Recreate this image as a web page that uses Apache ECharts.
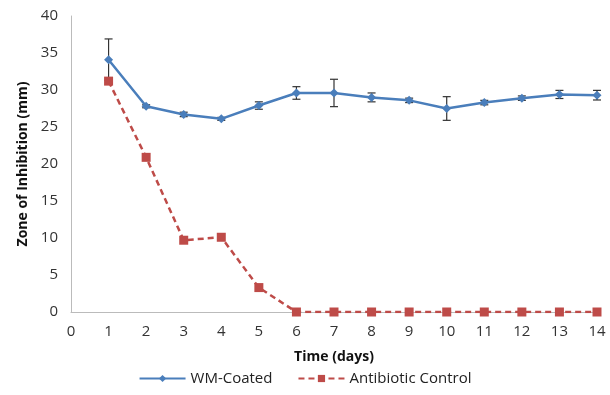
<!DOCTYPE html>
<html><head><meta charset="utf-8">
<script src="https://cdn.jsdelivr.net/npm/echarts@6/dist/echarts.min.js"></script>
<style>html,body{margin:0;padding:0;background:#fff}#c{width:610px;height:395px}</style>
</head><body><div id="c"></div>
<script>
const days = [1,2,3,4,5,6,7,8,9,10,11,12,13,14];
const wmCoated = [34.1,27.8,26.7,26.1,27.9,29.6,29.6,29.0,28.6,27.5,28.3,28.9,29.4,29.3];
const wmError = [2.8,0.2,0.3,0.2,0.5,0.85,1.85,0.6,0.3,1.6,0.3,0.3,0.55,0.65];
const antibiotic = [31.2,20.9,9.7,10.1,3.3,0,0,0,0,0,0,0,0,0];
const xTicks = [0,14,1];
const yTicks = [0,40,5];

const font = '"Open Sans", "Liberation Sans", sans-serif';
const chart = echarts.init(document.getElementById('c'));
chart.setOption({
  animation:false,
  grid:{left:71,right:13,top:16,bottom:83},
  legend:{bottom:4,left:'center',itemGap:25,itemWidth:46,itemHeight:9,
    textStyle:{fontFamily:font,fontSize:15,color:'#222'},
    data:['WM-Coated','Antibiotic Control']},
  xAxis:{type:'value',min:xTicks[0],max:xTicks[1],interval:xTicks[2],
    name:'Time (days)',nameLocation:'middle',nameGap:38,
    nameTextStyle:{fontFamily:font,fontWeight:'bold',fontSize:14,color:'#111'},
    axisLine:{lineStyle:{color:'#bbb',width:1}},axisTick:{show:false},splitLine:{show:false},
    axisLabel:{fontFamily:font,fontSize:15,color:'#333',margin:12}},
  yAxis:{type:'value',min:yTicks[0],max:yTicks[1],interval:yTicks[2],
    name:'Zone of Inhibition (mm)',nameLocation:'middle',nameGap:38,
    nameTextStyle:{fontFamily:font,fontWeight:'bold',fontSize:14,color:'#111'},
    axisLine:{show:true,lineStyle:{color:'#bbb',width:1}},axisTick:{show:false},splitLine:{show:false},
    axisLabel:{fontFamily:font,fontSize:15,color:'#333',margin:13}},
  series:[
    {name:'WM-Coated',type:'line',data:days.map((d,i)=>[d,wmCoated[i]]),
      symbol:'diamond',symbolSize:9,itemStyle:{color:'#4a7ebb'},
      lineStyle:{color:'#4a7ebb',width:2.5},z:3},
    {name:'WM-Err',type:'custom',data:days.map((d,i)=>[d,wmCoated[i]-wmError[i],wmCoated[i]+wmError[i]]),
      renderItem:function(params,api){
        const lo=api.coord([api.value(0),api.value(1)]);
        const hi=api.coord([api.value(0),api.value(2)]);
        const w=4;
        const st={stroke:'#333',lineWidth:1.2};
        return {type:'group',children:[
          {type:'line',shape:{x1:lo[0],y1:lo[1],x2:hi[0],y2:hi[1]},style:st},
          {type:'line',shape:{x1:lo[0]-w,y1:lo[1],x2:lo[0]+w,y2:lo[1]},style:st},
          {type:'line',shape:{x1:hi[0]-w,y1:hi[1],x2:hi[0]+w,y2:hi[1]},style:st}
        ]};
      },z:2,silent:true},
    {name:'Antibiotic Control',type:'line',data:days.map((d,i)=>[d,antibiotic[i]]),
      symbol:'rect',symbolSize:9,itemStyle:{color:'#be4b48'},
      lineStyle:{color:'#be4b48',width:2.5,type:[6,4]},z:4}
  ]
});
</script></body></html>
